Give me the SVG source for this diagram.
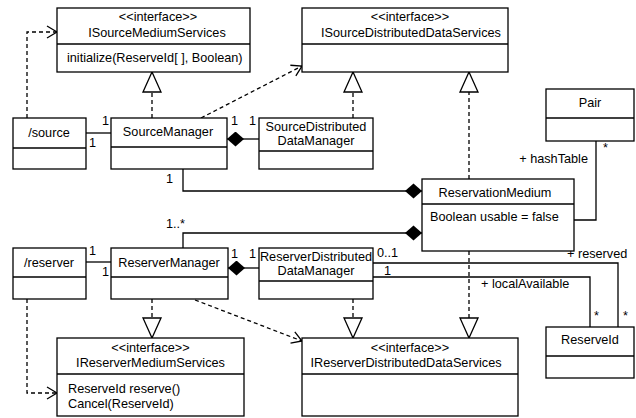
<svg xmlns="http://www.w3.org/2000/svg" width="636" height="418" viewBox="0 0 636 418">
  <style>
    .box { fill: #fff; stroke: #000; stroke-width: 1.3; }
    .sep { stroke: #000; stroke-width: 1.3; }
    .t { font-family: "Liberation Sans", Arial, Helvetica, sans-serif; font-size: 12.7px; fill: #000; }
    .m { text-anchor: middle; }
    .e { text-anchor: end; }
    .assoc { fill: none; stroke: #000; stroke-width: 1.3; }
    .dash { fill: none; stroke: #000; stroke-width: 1.3; stroke-dasharray: 4 3; }
    .real { marker-end: url(#triangle); }
    .dep { marker-end: url(#openArrow); }
    .comp { marker-start: url(#diamond); }
  </style>
  <defs>
    <!-- hollow triangle for realization -->
    <marker id="triangle" markerUnits="userSpaceOnUse" markerWidth="22" markerHeight="22" viewBox="-1 -1 22 20" refX="20" refY="9" orient="auto">
      <path d="M0,0 L20,9 L0,18 Z" fill="#fff" stroke="#000" stroke-width="1.3"/>
    </marker>
    <!-- open arrowhead for dependency -->
    <marker id="openArrow" markerUnits="userSpaceOnUse" markerWidth="14" markerHeight="14" viewBox="-1 -1 13 14" refX="10" refY="6" orient="auto">
      <path d="M0,0 L10,6 L0,12" fill="none" stroke="#000" stroke-width="1.3"/>
    </marker>
    <!-- filled diamond for composition -->
    <marker id="diamond" markerUnits="userSpaceOnUse" markerWidth="18" markerHeight="17" viewBox="0 0 18 17" refX="0" refY="7.5" orient="auto">
      <path d="M0,7.5 L8.5,0 L17,7.5 L8.5,15 Z" fill="#000"/>
    </marker>
  </defs>

  <!-- connectors -->
  <g id="connectors">
    <!-- dependencies -->
    <path class="dash dep" d="M27,118 V32 H57"/>
    <path class="dash dep" d="M201,118 L302,66"/>
    <path class="dash dep" d="M27,299 V393 H57"/>
    <path class="dash dep" d="M195,300 L302,341"/>
    <!-- realizations -->
    <path class="dash real" d="M152,118 V72"/>
    <path class="dash real" d="M353,118 V72"/>
    <path class="dash real" d="M469,179 V72"/>
    <path class="dash real" d="M152,299 V338"/>
    <path class="dash real" d="M353,299 V338"/>
    <path class="dash real" d="M469,251 V338"/>
    <!-- associations -->
    <path class="assoc" d="M86,133 H111"/>
    <path class="assoc" d="M86,262 H111"/>
    <path class="assoc" d="M596,141 V220 H574"/>
    <path class="assoc" d="M373,263 H618 V327"/>
    <path class="assoc" d="M373,277 H590 V327"/>
    <!-- compositions -->
    <path class="assoc comp" d="M227,139 H259"/>
    <path class="assoc comp" d="M228,268 H259"/>
    <path class="assoc comp" d="M422,191 H183 V169"/>
    <path class="assoc comp" d="M422,233 H183 V248"/>
    <!-- multiplicities and role names -->
    <text class="t" x="102" y="125">1</text>
    <text class="t" x="89" y="147">1</text>
    <text class="t" x="231" y="125">1</text>
    <text class="t" x="249" y="125">1</text>
    <text class="t" x="166" y="183">1</text>
    <text class="t" x="166" y="228">1..*</text>
    <text class="t" x="89" y="255">1</text>
    <text class="t" x="102" y="276">1</text>
    <text class="t" x="231" y="258">1</text>
    <text class="t" x="249" y="258">1</text>
    <text class="t" x="377" y="257">0..1</text>
    <text class="t" x="384" y="275">1</text>
    <text class="t e" x="588" y="163">+ hashTable</text>
    <text class="t" x="603" y="152">*</text>
    <text class="t" x="567" y="258">+ reserved</text>
    <text class="t" x="481" y="288">+ localAvailable</text>
    <text class="t" x="594" y="320">*</text>
    <text class="t" x="623" y="320">*</text>
  </g>

  <g id="ISourceMediumServices">
    <rect class="box" x="57" y="8" width="193" height="64"/>
    <line class="sep" x1="57" y1="44" x2="250" y2="44"/>
    <text class="t m" x="158" y="21">&lt;&lt;interface&gt;&gt;</text>
    <text class="t m" x="157" y="37">ISourceMediumServices</text>
    <text class="t" x="67" y="62">initialize(ReserveId[ ], Boolean)</text>
  </g>

  <g id="ISourceDistributedDataServices">
    <rect class="box" x="302" y="8" width="206" height="64"/>
    <line class="sep" x1="302" y1="44" x2="508" y2="44"/>
    <text class="t m" x="410" y="21">&lt;&lt;interface&gt;&gt;</text>
    <text class="t m" x="411" y="37">ISourceDistributedDataServices</text>
  </g>

  <g id="source">
    <rect class="box" x="13" y="118" width="73" height="51"/>
    <line class="sep" x1="13" y1="148" x2="86" y2="148"/>
    <text class="t m" x="49" y="137">/source</text>
  </g>

  <g id="SourceManager">
    <rect class="box" x="111" y="118" width="116" height="51"/>
    <line class="sep" x1="111" y1="147" x2="227" y2="147"/>
    <text class="t m" x="168" y="136">SourceManager</text>
  </g>

  <g id="SourceDistributedDataManager">
    <rect class="box" x="259" y="118" width="114" height="51"/>
    <line class="sep" x1="259" y1="151" x2="373" y2="151"/>
    <text class="t m" x="316" y="131">SourceDistributed</text>
    <text class="t m" x="316" y="145">DataManager</text>
  </g>

  <g id="Pair">
    <rect class="box" x="546" y="89" width="88" height="52"/>
    <line class="sep" x1="546" y1="118" x2="634" y2="118"/>
    <text class="t m" x="590" y="107">Pair</text>
  </g>

  <g id="ReservationMedium">
    <rect class="box" x="422" y="179" width="152" height="72"/>
    <line class="sep" x1="422" y1="204" x2="574" y2="204"/>
    <text class="t m" x="495" y="197">ReservationMedium</text>
    <text class="t" x="430" y="221">Boolean usable = false</text>
  </g>

  <g id="reserver">
    <rect class="box" x="13" y="248" width="73" height="51"/>
    <line class="sep" x1="13" y1="277" x2="86" y2="277"/>
    <text class="t m" x="49" y="267">/reserver</text>
  </g>

  <g id="ReserverManager">
    <rect class="box" x="111" y="248" width="117" height="51"/>
    <line class="sep" x1="111" y1="277" x2="228" y2="277"/>
    <text class="t m" x="169" y="267">ReserverManager</text>
  </g>

  <g id="ReserverDistributedDataManager">
    <rect class="box" x="259" y="248" width="114" height="51"/>
    <line class="sep" x1="259" y1="281" x2="373" y2="281"/>
    <text class="t m" x="316" y="261">ReserverDistributed</text>
    <text class="t m" x="316" y="275">DataManager</text>
  </g>

  <g id="IReserverMediumServices">
    <rect class="box" x="57" y="338" width="187" height="78"/>
    <line class="sep" x1="57" y1="374" x2="244" y2="374"/>
    <text class="t m" x="150.5" y="352">&lt;&lt;interface&gt;&gt;</text>
    <text class="t m" x="150.5" y="367">IReserverMediumServices</text>
    <text class="t" x="68" y="393">ReserveId reserve()</text>
    <text class="t" x="68" y="408">Cancel(ReserveId)</text>
  </g>

  <g id="IReserverDistributedDataServices">
    <rect class="box" x="302" y="338" width="216" height="78"/>
    <line class="sep" x1="302" y1="374" x2="518" y2="374"/>
    <text class="t m" x="410" y="352">&lt;&lt;interface&gt;&gt;</text>
    <text class="t m" x="406" y="367">IReserverDistributedDataServices</text>
  </g>

  <g id="ReserveId">
    <rect class="box" x="546" y="327" width="88" height="51"/>
    <line class="sep" x1="546" y1="356" x2="634" y2="356"/>
    <text class="t m" x="590" y="344">ReserveId</text>
  </g>
</svg>
